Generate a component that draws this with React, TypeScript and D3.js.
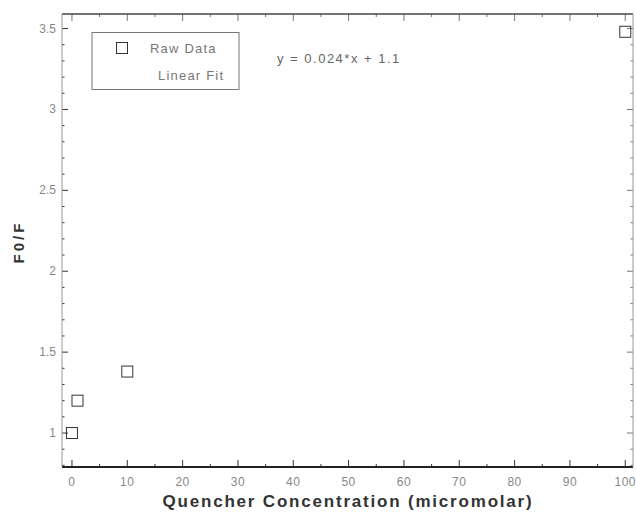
import React, { useEffect, useRef } from "react";
import * as d3 from "d3";

const concentration = [0, 1, 10, 100];
const ratio = [1.0, 1.2, 1.38, 3.48];
const xTicks = [0, 10, 20, 30, 40, 50, 60, 70, 80, 90, 100];
const yTicks = [1, 1.5, 2, 2.5, 3, 3.5];
const legendLabels = ["Raw Data", "Linear Fit"];
const fitText = "y = 0.024*x + 1.1";

export default function App() {
  const ref = useRef<SVGSVGElement>(null);

  useEffect(() => {
    const svg = d3.select(ref.current);
    svg.selectAll("*").remove();
    const left = 62, right = 633, top = 14, bottom = 467;
    const x = d3.scaleLinear().domain([-1.8, 101.4]).range([left, right]);
    const y = d3.scaleLinear().domain([0.79, 3.59]).range([bottom, top]);
    const font = "Liberation Sans, Arial, sans-serif";

    // minor + major ticks, pointing inward on all four sides
    const xMinor = d3.range(0, 101, 5);
    const yMinor = d3.range(8, 36, 1).map((d) => d / 10);
    const g = svg.append("g").attr("stroke", "#333");
    xMinor.forEach((v) => {
      const len = v % 10 === 0 ? 7 : 3;
      g.append("line").attr("x1", x(v)).attr("x2", x(v)).attr("y1", bottom).attr("y2", bottom - len);
      g.append("line").attr("x1", x(v)).attr("x2", x(v)).attr("y1", top).attr("y2", top + len).attr("stroke", "#777");
    });
    yMinor.forEach((v) => {
      const major = Math.abs(v * 2 - Math.round(v * 2)) < 1e-6;
      const len = major ? 6 : 2.5;
      g.append("line").attr("x1", left).attr("x2", left + len).attr("y1", y(v)).attr("y2", y(v));
      g.append("line").attr("x1", right).attr("x2", right - len).attr("y1", y(v)).attr("y2", y(v)).attr("stroke", "#777");
    });

    // frame
    svg.append("line").attr("x1", left).attr("x2", right).attr("y1", top).attr("y2", top)
      .attr("stroke", "#444").attr("stroke-width", 1.3);
    svg.append("line").attr("x1", left).attr("x2", right).attr("y1", bottom).attr("y2", bottom)
      .attr("stroke", "#222").attr("stroke-width", 2);
    svg.append("line").attr("x1", left).attr("x2", left).attr("y1", top).attr("y2", bottom)
      .attr("stroke", "#999").attr("stroke-width", 1);
    svg.append("line").attr("x1", right).attr("x2", right).attr("y1", top).attr("y2", bottom)
      .attr("stroke", "#999").attr("stroke-width", 1);

    // tick labels
    svg.append("g").selectAll("text").data(xTicks).enter().append("text")
      .attr("x", (d) => x(d)).attr("y", bottom + 19)
      .attr("text-anchor", "middle").attr("fill", "#888")
      .style("font-family", font).style("font-size", "12px").style("letter-spacing", "0.5px")
      .text((d) => d);
    svg.append("g").selectAll("text").data(yTicks).enter().append("text")
      .attr("x", left - 6).attr("y", (d) => y(d) + 4)
      .attr("text-anchor", "end").attr("fill", "#888")
      .style("font-family", font).style("font-size", "12px")
      .text((d) => d);

    // axis titles
    svg.append("text")
      .attr("x", 348).attr("y", 507)
      .attr("text-anchor", "middle").attr("fill", "#333")
      .style("font-family", font).style("font-size", "17px").style("font-weight", "bold")
      .style("letter-spacing", "1.8px")
      .text("Quencher Concentration (micromolar)");
    svg.append("text")
      .attr("transform", "translate(24," + 242 + ")rotate(-90)")
      .attr("text-anchor", "middle").attr("fill", "#333")
      .style("font-family", font).style("font-size", "15px").style("font-weight", "bold")
      .style("letter-spacing", "3px")
      .text("F0/F");

    // data
    const pts = concentration.map((c, i) => ({ c, r: ratio[i] }));
    svg.append("g").selectAll("rect").data(pts).enter().append("rect")
      .attr("x", (d) => x(d.c) - 5.5).attr("y", (d) => y(d.r) - 5.5)
      .attr("width", 11).attr("height", 11)
      .attr("fill", "none").attr("stroke", "#333").attr("stroke-width", 1);

    // legend
    const lg = svg.append("g");
    lg.append("rect").attr("x", 92).attr("y", 32.5).attr("width", 147).attr("height", 57)
      .attr("fill", "white").attr("stroke", "#777").attr("stroke-width", 1);
    lg.append("rect").attr("x", 116.5).attr("y", 42.5).attr("width", 11).attr("height", 11)
      .attr("fill", "none").attr("stroke", "#333");
    lg.selectAll("text.lab").data(legendLabels).enter().append("text")
      .attr("class", "lab")
      .attr("x", (d, i) => (i === 0 ? 150 : 158)).attr("y", (d, i) => 53 + i * 27)
      .attr("fill", "#777")
      .style("font-family", font).style("font-size", "13px").style("letter-spacing", "1.2px")
      .text((d) => d);

    svg.append("text")
      .attr("x", 277).attr("y", 63).attr("fill", "#666")
      .style("font-family", font).style("font-size", "13px").style("letter-spacing", "1.5px")
      .text(fitText);
  }, []);

  return (
    <svg ref={ref} width={636} height={516}
      style={{ position: "absolute", left: 0, top: 0, background: "white" }} />
  );
}
